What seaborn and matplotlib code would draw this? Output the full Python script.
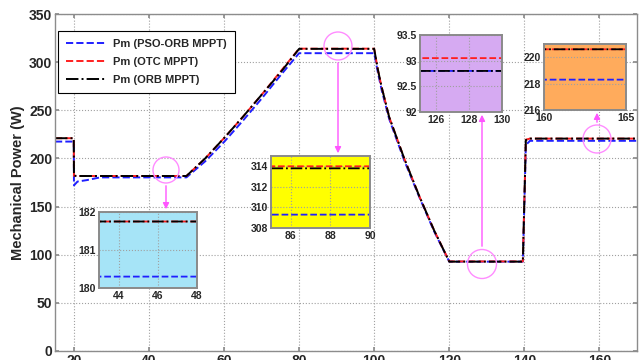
import matplotlib

matplotlib.use("Agg")

import matplotlib.pyplot as plt  # noqa: E402
import pandas as pd  # noqa: E402
import seaborn as sns  # noqa: E402
from matplotlib.patches import Circle, FancyArrowPatch  # noqa: E402
from matplotlib.ticker import FormatStrFormatter  # noqa: E402

sns.set_theme(style="whitegrid")
plt.rcParams["font.family"] = ["Liberation Sans", "DejaVu Sans"]
plt.rcParams["font.weight"] = "bold"

# time axis (s) and mechanical power (W) for each controller
time = [15, 20, 20.05, 21, 23.5, 27, 50, 55, 60, 65, 70, 75, 80, 100, 101, 102,
        104, 108, 112, 116, 120, 139.6, 140.4, 141.5, 170]
pso_orb = [217.5, 217.5, 172, 176, 177.5, 180.3, 180.3, 197, 217, 239, 262, 286,
           309.3, 309.3, 289, 271, 241, 198, 160, 124, 92.8, 92.8, 214, 218.3, 218.3]
otc = [221, 221, 182, 181.75, 181.75, 181.75, 181.75, 200, 221, 243, 266, 290,
       314, 314, 292, 274, 243, 200, 161, 125, 93.05, 93.05, 219.5, 220.6, 220.6]
orb = [221, 221, 182, 181.75, 181.75, 181.75, 181.75, 200, 221, 243, 266, 289,
       313.8, 313.8, 292, 274, 243, 200, 161, 125, 92.8, 92.8, 219, 220.6, 220.6]

series = [
    ("Pm (PSO-ORB MPPT)", pso_orb, "#1f1fff", "--"),
    ("Pm (OTC MPPT)", otc, "#ff1f1f", "--"),
    ("Pm (ORB MPPT)", orb, "black", "-."),
]

# zoom windows: (xlim, ylim, xticks, yticks, facecolor, fig rect in px [x0, y0, x1, y1])
insets = [
    ((43, 48), (180, 182), [44, 46, 48], [180, 181, 182], "#a6e4f7", (99, 212, 197, 288)),
    ((85, 90), (308, 315), [86, 88, 90], [308, 310, 312, 314], "#ffff00", (271, 156, 370, 228)),
    ((125, 130), (92, 93.5), [126, 128, 130], [92, 92.5, 93, 93.5], "#d6aaf2", (420, 35, 502, 112)),
    ((160, 165), (216, 221), [160, 165], [216, 218, 220], "#ffab5c", (544, 44, 626, 110)),
]

# highlight circles (center px, radius px) and arrow (start px, end px)
marks = [
    ((166, 170), 13, (166, 183), (166, 212)),
    ((338, 46), 14, (338, 60), (338, 156)),
    ((482, 264), 14.5, (482, 249), (482, 112)),
    ((597, 139), 14, (597, 125), (597, 110)),
]

W, H = 641, 360
fig = plt.figure(figsize=(W / 100, H / 100), dpi=100)
ax = fig.add_axes([55 / W, 9 / H, 582 / W, 337 / H])


def draw(a, lw=1.4):
    for name, vals, color, ls in series:
        df = pd.DataFrame({"t": time, "p": vals})
        sns.lineplot(data=df, x="t", y="p", ax=a, color=color, linestyle=ls,
                     linewidth=lw, estimator=None, label=name, legend=False)


def style(a, spine="#8c8c8c", lw=1.0):
    a.grid(True, linestyle=":", color="#a0a0a0", linewidth=0.8)
    for s in a.spines.values():
        s.set_color(spine)
        s.set_linewidth(lw)
    a.tick_params(direction="in", length=3, color=spine, top=True, right=True,
                  bottom=True, left=True, pad=2)
    a.set_xlabel("")
    a.set_ylabel("")
    a.yaxis.set_major_formatter(FormatStrFormatter("%g"))


draw(ax)
style(ax)
ax.set_xlim(15, 170)
ax.set_ylim(0, 350)
ax.set_xticks(range(20, 161, 20))
ax.set_yticks(range(0, 351, 50))
ax.tick_params(labelsize=10)
ax.set_ylabel("Mechanical Power (W)", fontsize=10.5, fontweight="bold", labelpad=3)
leg = ax.legend(loc="upper left", bbox_to_anchor=(0.005, 0.95), borderaxespad=0,
                fontsize=8, frameon=True, fancybox=False, framealpha=1,
                borderpad=0.7, handlelength=3.5, labelspacing=0.75)
leg.get_frame().set_edgecolor("black")
leg.get_frame().set_linewidth(0.8)

for xl, yl, xt, yt, fc, (x0, y0, x1, y1) in insets:
    ia = fig.add_axes([x0 / W, (H - y1) / H, (x1 - x0) / W, (y1 - y0) / H])
    draw(ia, lw=1.3)
    style(ia, spine="#8a8a8a", lw=1.4)
    ia.set_facecolor(fc)
    ia.set_xlim(*xl)
    ia.set_ylim(*yl)
    ia.set_xticks(xt)
    ia.set_yticks(yt)
    ia.tick_params(labelsize=7.5, length=0)

for (cx, cy), r, (sx, sy), (ex, ey) in marks:
    fig.patches.append(Circle((cx / 100, (H - cy) / 100), r / 100, fill=False,
                              edgecolor="#ff8cff", linewidth=1.0,
                              transform=fig.dpi_scale_trans, figure=fig))
    fig.add_artist(FancyArrowPatch(
        (sx / 100, (H - sy) / 100), (ex / 100, (H - ey) / 100),
        arrowstyle="-|>", mutation_scale=9, color="#ff55ff", linewidth=1.0,
        transform=fig.dpi_scale_trans))

fig.savefig("out.png", dpi=100)
